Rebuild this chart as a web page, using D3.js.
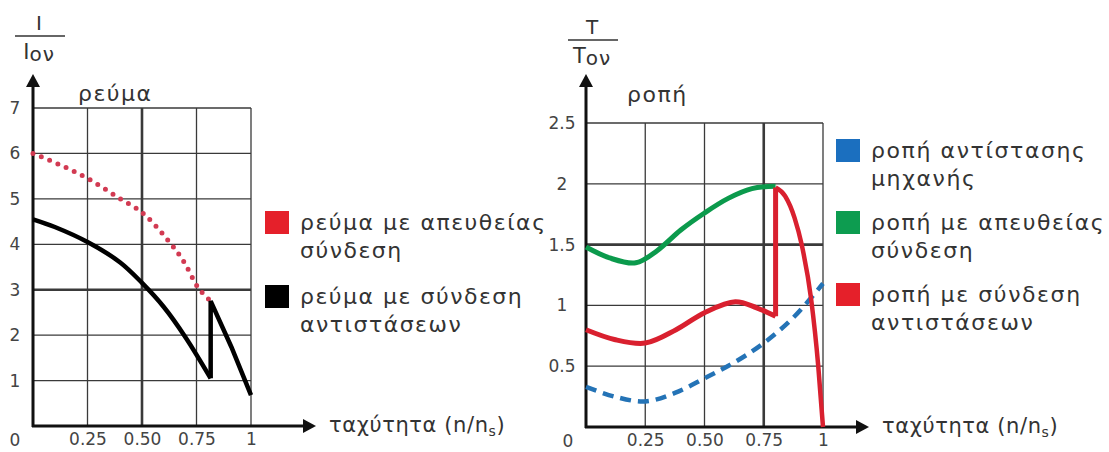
<!DOCTYPE html>
<html><head><meta charset="utf-8">
<script src="https://cdn.jsdelivr.net/npm/d3@7"></script>
<style>
html,body{margin:0;padding:0;background:#fff;}
svg text{font-family:"DejaVu Sans","Noto Sans",sans-serif;}
</style></head>
<body><svg id="c" width="1109" height="452"></svg>
<script>
// ---------- data ----------
const xTicks = [0.25, 0.5, 0.75, 1];
const xTickLabels = ["0.25", "0.50", "0.75", "1"];
const currentYTicks = [1, 2, 3, 4, 5, 6, 7];
const torqueYTicks = [0.5, 1, 1.5, 2, 2.5];
const torqueYTickLabels = ["0.5", "1", "1.5", "2", "2.5"];

// current (I/Ion) vs speed
const currentDirect = [[0,6.0],[0.1,5.8],[0.25,5.45],[0.4,5.0],[0.5,4.7],[0.6,4.2],[0.7,3.55],[0.75,3.1],[0.815,2.75]];
const currentResistA = [[0,4.55],[0.1,4.38],[0.25,4.05],[0.4,3.6],[0.5,3.15],[0.6,2.62],[0.7,1.95],[0.815,1.05]];
const currentResistB = [[0.815,1.05],[0.815,2.75],[0.91,1.74],[1.0,0.68]];

// torque (T/Ton) vs speed
const torqueLoad = [[0,0.33],[0.12,0.25],[0.25,0.21],[0.375,0.28],[0.5,0.4],[0.625,0.53],[0.75,0.69],[0.875,0.9],[1,1.18]];
const torqueDirect = [[0,1.48],[0.1,1.39],[0.21,1.35],[0.3,1.45],[0.4,1.62],[0.5,1.76],[0.6,1.88],[0.7,1.96],[0.8,1.98]];
const torqueResistA = [[0,0.8],[0.12,0.72],[0.25,0.69],[0.38,0.8],[0.5,0.94],[0.63,1.03],[0.72,0.98],[0.8,0.91]];
const torqueResistB = [[0.8,0.91],[0.8,1.97]];
const torqueResistC = [[0.8,1.97],[0.84,1.9],[0.88,1.72],[0.91,1.5],[0.95,1.05],[0.98,0.5],[1.0,0]];

const currentLegend = ["ρεύμα με απευθείας|σύνδεση", "ρεύμα με σύνδεση|αντιστάσεων"];
const torqueLegend = ["ροπή αντίστασης|μηχανής", "ροπή με απευθείας|σύνδεση", "ροπή με σύνδεση|αντιστάσεων"];

const svg = d3.select("#c");
const tickFont = "Liberation Sans, Arial, sans-serif";

function drawPanel(o){
  const g = svg.append("g");
  const x = d3.scaleLinear().domain([0,1]).range([o.x0, o.x1]);
  const y = d3.scaleLinear().domain([0,o.ymax]).range([o.y0, o.y1]);
  // grid
  g.selectAll(".vg").data(xTicks).join("line")
    .attr("x1", d=>x(d)).attr("x2", d=>x(d)).attr("y1", y(0)).attr("y2", y(o.ymax))
    .attr("stroke", "#3a3a3a").attr("stroke-width", d=>d===o.thickX?2.6:1.3);
  g.selectAll(".hg").data(o.yTicks).join("line")
    .attr("x1", x(0)).attr("x2", x(1)).attr("y1", d=>y(d)).attr("y2", d=>y(d))
    .attr("stroke", "#3a3a3a").attr("stroke-width", d=>d===o.thickY?2.6:1.3);
  // tick labels
  const yAx = g.append("g").attr("transform", `translate(${x(0)-o.yLabOff},0)`)
    .call(d3.axisLeft(y).tickValues(o.yTicks).tickSize(0).tickFormat((d,i)=>o.yLabels[i]));
  yAx.select(".domain").remove();
  yAx.selectAll("text").attr("font-size", 17).attr("fill", "#444").attr("text-anchor","middle")
    .attr("font-family", tickFont).attr("x", 0);
  const xAx = g.append("g").attr("transform", `translate(0,${y(0)+4})`)
    .call(d3.axisBottom(x).tickValues(xTicks).tickSize(0).tickFormat((d,i)=>xTickLabels[i]));
  xAx.select(".domain").remove();
  xAx.selectAll("text").attr("font-size", 17).attr("fill", "#444").attr("font-family", tickFont);
  g.append("text").attr("x", o.zeroX).attr("y", y(0)+20).attr("text-anchor","middle")
    .attr("font-size", 17).attr("fill","#444").attr("font-family", tickFont).text("0");
  // axis lines with arrows
  g.append("line").attr("x1", x(0)).attr("x2", x(0)).attr("y1", y(0)+1).attr("y2", o.yArrow+10)
    .attr("stroke","#111").attr("stroke-width",3);
  g.append("path").attr("d", `M${x(0)},${o.yArrow} L${x(0)-7},${o.yArrow+13} L${x(0)+7},${o.yArrow+13} Z`).attr("fill","#111");
  g.append("line").attr("x1", x(0)-1).attr("x2", o.xArrow-10).attr("y1", y(0)).attr("y2", y(0))
    .attr("stroke","#111").attr("stroke-width",3);
  g.append("path").attr("d", `M${o.xArrow},${y(0)} L${o.xArrow-13},${y(0)-7} L${o.xArrow-13},${y(0)+7} Z`).attr("fill","#111");
  const xl = g.append("text").attr("x", o.xArrow+13).attr("y", y(0)+6).attr("font-size", 21)
    .attr("letter-spacing", 0.6).attr("fill","#333");
  xl.append("tspan").text("ταχύτητα (n/n");
  xl.append("tspan").attr("font-size",14).attr("dy",4).text("s");
  xl.append("tspan").attr("dy",-4).text(")");
  // fraction label
  g.append("text").attr("x", o.fracX).attr("y", o.fracY-6).attr("text-anchor","middle").attr("font-size",20).attr("fill","#333").text(o.sym);
  g.append("line").attr("x1", o.fracX-24).attr("x2", o.fracX+26).attr("y1", o.fracY).attr("y2", o.fracY).attr("stroke","#333").attr("stroke-width",1.5);
  const den = g.append("text").attr("x", o.fracX).attr("y", o.fracY+23).attr("text-anchor","middle").attr("font-size",21).attr("fill","#333");
  den.append("tspan").text(o.sym);
  den.append("tspan").attr("font-size",20).attr("dy",2).attr("letter-spacing",1).text("ον");
  g.append("text").attr("x", o.titleX).attr("y", o.titleY).attr("font-size",22).attr("letter-spacing",1.5).attr("fill","#333").text(o.title);
  // series
  o.series.forEach(s=>{
    const line = d3.line().x(d=>x(d[0])).y(d=>y(d[1])).curve(s.curve||d3.curveMonotoneX);
    g.append("path").datum(s.data).attr("d", line)
      .attr("fill","none").attr("stroke", s.color).attr("stroke-width", s.width)
      .attr("stroke-dasharray", s.dash||null).attr("stroke-linecap", s.cap||"butt")
      .attr("stroke-linejoin","miter");
  });
  // legend
  o.legend.forEach((t,i)=>{
    const ly = o.legY + i*o.legStep;
    g.append("rect").attr("x", o.legX).attr("y", ly).attr("width", 24).attr("height", 23).attr("fill", o.legColors[i]);
    t.split("|").forEach((p,j)=>{
      g.append("text").attr("x", o.legX+35).attr("y", ly+19+j*28).attr("font-size",22)
        .attr("letter-spacing", o.legLS).attr("fill","#333").text(p);
    });
  });
}

drawPanel({
  x0:33, x1:251, y0:426, y1:108, ymax:7, yTicks:currentYTicks, yLabels:currentYTicks.map(String),
  yLabOff:18, thickX:0.5, thickY:3, zeroX:15, yArrow:74, xArrow:316,
  fracX:39, fracY:36, sym:"I", title:"ρεύμα", titleX:78, titleY:101,
  series:[
    {data:currentDirect, color:"#d23a52", width:5, dash:"0 9", cap:"round"},
    {data:currentResistA, color:"#000", width:4.5, curve:d3.curveCatmullRom},
    {data:currentResistB, color:"#000", width:4.5, curve:d3.curveLinear},
  ],
  legend:currentLegend, legColors:["#e5202a","#000"], legX:265, legY:211, legStep:74, legLS:1.5
});

drawPanel({
  x0:586, x1:823, y0:427, y1:123, ymax:2.5, yTicks:torqueYTicks, yLabels:torqueYTickLabels,
  yLabOff:24, thickX:0.75, thickY:1.5, zeroX:568, yArrow:74, xArrow:869,
  fracX:592, fracY:40, sym:"T", title:"ροπή", titleX:627, titleY:102,
  series:[
    {data:torqueLoad, color:"#2473b6", width:4.5, dash:"11 7", curve:d3.curveCatmullRom},
    {data:torqueDirect, color:"#0b9a4c", width:5, curve:d3.curveCatmullRom},
    {data:torqueResistA, color:"#d9202f", width:5, curve:d3.curveCatmullRom},
    {data:torqueResistB, color:"#d9202f", width:5, curve:d3.curveLinear},
    {data:torqueResistC, color:"#d9202f", width:4.5},
  ],
  legend:torqueLegend, legColors:["#1b6fbf","#0d9c50","#e5202a"], legX:836, legY:139, legStep:72, legLS:1.6
});
</script></body></html>
